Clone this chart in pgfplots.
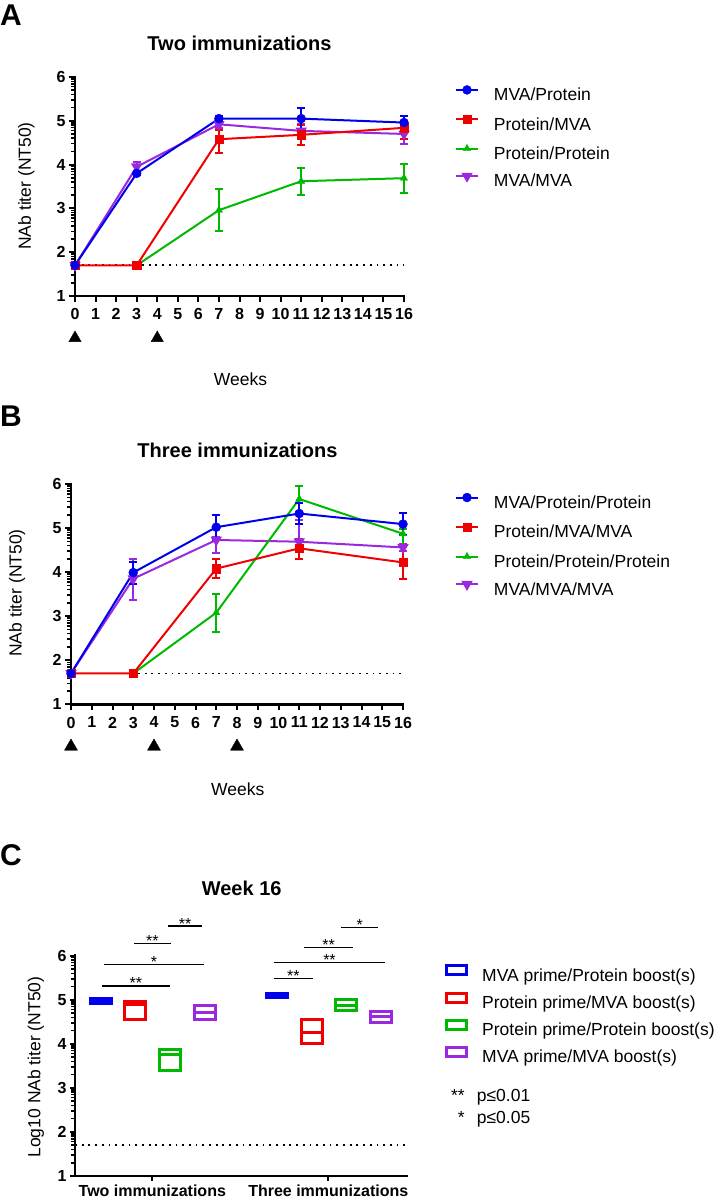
\documentclass[border=0pt]{standalone}
\usepackage{fontspec}
\setmainfont{Liberation Sans}
\usepackage{pgfplots}
\pgfplotsset{compat=1.18}
\usepackage{pgfplotstable}
\usepgfplotslibrary{statistics}

\definecolor{cblue}{RGB}{0,0,235}
\definecolor{cred}{RGB}{240,0,0}
\definecolor{cgreen}{RGB}{0,185,0}
\definecolor{cpurple}{RGB}{155,40,225}

% ---------- Panel A: two immunizations ----------
\pgfplotstableread{
x y ep em
0 1.70 0 0
3 3.80 0.04 0.04
7 5.05 0.05 0.05
11 5.05 0.24 0.24
16 4.96 0.15 0.15
}\ABlue
\pgfplotstableread{
x y ep em
0 1.70 0 0
3 1.70 0 0
7 4.58 0.22 0.32
11 4.68 0.22 0.24
16 4.84 0.15 0.25
}\ARed
\pgfplotstableread{
x y ep em
3 1.70 0 0
7 2.96 0.48 0.48
11 3.62 0.31 0.31
16 3.69 0.33 0.33
}\AGreen
\pgfplotstableread{
x y ep em
0 1.70 0 0
3 3.95 0.10 0.10
7 4.92 0.08 0.08
11 4.77 0.15 0.15
16 4.70 0.20 0.22
}\APurple
% ---------- Panel B: three immunizations ----------
\pgfplotstableread{
x y ep em
0 1.70 0 0
3 3.99 0.25 0.25
7 5.02 0.28 0.28
11 5.33 0.24 0.24
16 5.09 0.25 0.25
}\BBlue
\pgfplotstableread{
x y ep em
0 1.70 0 0
3 1.70 0 0
7 4.08 0.22 0.22
11 4.54 0.22 0.24
16 4.22 0.38 0.38
}\BRed
\pgfplotstableread{
x y ep em
3 1.70 0 0
7 3.08 0.43 0.43
11 5.66 0.29 0.29
16 4.87 0.12 0.25
}\BGreen
\pgfplotstableread{
x y ep em
0 1.70 0 0
3 3.85 0.44 0.48
7 4.73 0.07 0.29
11 4.69 0.50 0.15
16 4.56 0.08 0.08
}\BPurple

\pgfplotsset{
  common/.style={
    scale only axis, clip=false,
    axis x line*=bottom, axis y line*=left,
    axis line style={line width=2.5pt, line cap=rect},
    ymin=1, ymax=6, ytick={1,...,6},
    minor ytick={1.301,1.477,1.602,1.699,1.778,1.845,1.903,1.954,
                 2.301,2.477,2.602,2.699,2.778,2.845,2.903,2.954,
                 3.301,3.477,3.602,3.699,3.778,3.845,3.903,3.954,
                 4.301,4.477,4.602,4.699,4.778,4.845,4.903,4.954,
                 5.301,5.477,5.602,5.699,5.778,5.845,5.903,5.954},
    tick align=outside, major tick length=6pt, minor tick length=3.5pt,
    major tick style={line width=2pt, black},
    minor tick style={line width=1.5pt, black},
    tick label style={font=\bfseries\fontsize{16}{16}\selectfont},
    /pgf/number format/assume math mode=true,
    legend cell align=left,
    legend style={draw=none, fill=none, anchor=north west, inner sep=0pt, outer sep=0pt,
      column sep=15pt, nodes={inner sep=0pt, text height=12.6pt, text depth=3.7pt,
      font=\fontsize{17.5}{18}\selectfont}},
  },
  timecourse/.style={common,
    xmin=0, xmax=16, xtick={0,...,16},
    x tick label style={yshift=-3pt},
    reverse legend,
    legend style={row sep=10.7pt},
    legend image code/.code={\draw[mark repeat=2,mark phase=2] plot coordinates {(0pt,6.3pt)(11pt,6.3pt)(22pt,6.3pt)};},
  },
  ser/.style={line width=2pt, color=#1, mark options={solid, line width=0.4pt},
    error bars/y dir=both, error bars/y explicit,
    error bars/error mark=-,
    error bars/error bar style={line width=2pt, color=#1},
    error bars/error mark options={rotate=90, line width=2pt, mark size=4pt, color=#1}},
  arrowmk/.style={only marks, mark=triangle*, black, forget plot, mark options={solid}},
  dotline/.style={black, line width=1.8pt, dash pattern=on 1.8pt off 4.9pt, forget plot},
  boxleg/.style={legend image code/.code={\draw (1.5pt,1.8pt) rectangle (21pt,10.8pt);}},
  fb/.style={line width=3pt, solid, boxplot/draw direction=y, boxplot/box extend=0.119,
    boxplot/whisker extend=0},
}

\newcommand{\fbig}{\fontsize{20}{22}\selectfont\bfseries}
\newcommand{\flab}{\fontsize{17.5}{18}\selectfont}
\newcommand{\fletter}{\fontsize{30}{30}\selectfont\bfseries}
\newcommand{\fstar}{\fontsize{16}{16}\selectfont}

\begin{document}
\begin{tikzpicture}[x=1pt,y=1pt]
\path[use as bounding box] (0,0) rectangle (723,-1200);

% ================= A =================
\node[anchor=base west, inner sep=0pt, font=\fletter] at (0,-25) {A};
\node[inner sep=0pt, font=\fbig] at (239.5,-43) {Two immunizations};
\begin{axis}[timecourse, at={(75pt,-296pt)}, anchor=south west,
  width=329pt, height=219pt,
  legend style={at={(axis description cs:1.155,0.9616)}}]
\addplot[dotline] coordinates {(0,1.7) (16,1.7)};
\addplot[ser=cpurple, mark=triangle*, mark size=4.6pt, mark options={rotate=180}]
  table[x=x, y=y, y error plus=ep, y error minus=em] {\APurple};
\addlegendentry{MVA/MVA}
\addplot[ser=cgreen, mark=triangle*, mark size=4.2pt]
  table[x=x, y=y, y error plus=ep, y error minus=em] {\AGreen};
\addlegendentry{Protein/Protein}
\addplot[ser=cred, mark=square*, mark size=4.2pt]
  table[x=x, y=y, y error plus=ep, y error minus=em] {\ARed};
\addlegendentry{Protein/MVA}
\addplot[ser=cblue, mark=*, mark size=4.5pt]
  table[x=x, y=y, y error plus=ep, y error minus=em] {\ABlue};
\addlegendentry{MVA/Protein}
\addplot[arrowmk, mark size=7.1pt] coordinates {(0,0.039) (4,0.039)};
\end{axis}
\node[rotate=90, inner sep=0pt, font=\flab] at (26.3,-186) {NAb titer (NT50)};
\node[inner sep=0pt, font=\flab] at (240.5,-379.7) {Weeks};

% ================= B =================
\node[anchor=base west, inner sep=0pt, font=\fletter] at (0,-426) {B};
\node[inner sep=0pt, font=\fbig] at (237.5,-450) {Three immunizations};
\begin{axis}[timecourse, at={(71pt,-704.3pt)}, anchor=south west,
  width=332pt, height=220.3pt,
  legend style={at={(axis description cs:1.1566,0.959)}, row sep=10.9pt}]
\addplot[dotline] coordinates {(0,1.7) (16,1.7)};
\addplot[ser=cpurple, mark=triangle*, mark size=4.6pt, mark options={rotate=180}]
  table[x=x, y=y, y error plus=ep, y error minus=em] {\BPurple};
\addlegendentry{MVA/MVA/MVA}
\addplot[ser=cgreen, mark=triangle*, mark size=4.2pt]
  table[x=x, y=y, y error plus=ep, y error minus=em] {\BGreen};
\addlegendentry{Protein/Protein/Protein}
\addplot[ser=cred, mark=square*, mark size=4.2pt]
  table[x=x, y=y, y error plus=ep, y error minus=em] {\BRed};
\addlegendentry{Protein/MVA/MVA}
\addplot[ser=cblue, mark=*, mark size=4.5pt]
  table[x=x, y=y, y error plus=ep, y error minus=em] {\BBlue};
\addlegendentry{MVA/Protein/Protein}
\addplot[arrowmk, mark size=7.5pt] coordinates {(0,0.0424) (4,0.0424) (8,0.0424)};
\end{axis}
\node[rotate=90, inner sep=0pt, font=\flab] at (17,-593) {NAb titer (NT50)};
\node[inner sep=0pt, font=\flab] at (237.8,-789) {Weeks};

% ================= C =================
\node[anchor=base west, inner sep=0pt, font=\fletter] at (0,-865) {C};
\node[inner sep=0pt, font=\fbig] at (241.7,-888.5) {Week 16};
\begin{axis}[common, at={(75pt,-1176pt)}, anchor=south west,
  width=331.7pt, height=220.3pt,
  xmin=0.5608, xmax=2.4455, xtick={1,2},
  xticklabels={Two immunizations,Three immunizations},
  x tick label style={yshift=0pt},
  major tick length=5pt,
  legend style={at={(axis description cs:1.1155,0.9605)}, row sep=6.7pt, column sep=14.7pt}]
\addplot[dotline] coordinates {(0.5608,1.7) (2.4455,1.7)};
% group 1: two immunizations
\addplot[draw=cblue, fb, boxplot prepared={draw position=0.706,
  lower whisker=4.91, lower quartile=4.91, median=4.98, upper quartile=5.04, upper whisker=5.04}, boxleg] coordinates {};
\addlegendentry{MVA prime/Protein boost(s)}
\addplot[draw=cred, fb, boxplot prepared={draw position=0.902,
  lower whisker=4.55, lower quartile=4.55, median=4.90, upper quartile=4.95, upper whisker=4.95}, boxleg] coordinates {};
\addlegendentry{Protein prime/MVA boost(s)}
\addplot[draw=cgreen, fb, boxplot prepared={draw position=1.100,
  lower whisker=3.40, lower quartile=3.40, median=3.76, upper quartile=3.88, upper whisker=3.88}, boxleg] coordinates {};
\addlegendentry{Protein prime/Protein boost(s)}
\addplot[draw=cpurple, fb, boxplot prepared={draw position=1.300,
  lower whisker=4.55, lower quartile=4.55, median=4.71, upper quartile=4.87, upper whisker=4.87}, boxleg] coordinates {};
\addlegendentry{MVA prime/MVA boost(s)}
% group 2: three immunizations
\addplot[forget plot, draw=cblue, fb, boxplot prepared={draw position=1.707,
  lower whisker=5.06, lower quartile=5.06, median=5.10, upper quartile=5.14, upper whisker=5.14}] coordinates {};
\addplot[forget plot, draw=cred, fb, boxplot prepared={draw position=1.906,
  lower whisker=4.00, lower quartile=4.00, median=4.25, upper quartile=4.55, upper whisker=4.55}] coordinates {};
\addplot[forget plot, draw=cgreen, fb, boxplot prepared={draw position=2.100,
  lower whisker=4.75, lower quartile=4.75, median=4.88, upper quartile=5.00, upper whisker=5.00}] coordinates {};
\addplot[forget plot, draw=cpurple, fb, boxplot prepared={draw position=2.300,
  lower whisker=4.48, lower quartile=4.48, median=4.62, upper quartile=4.74, upper whisker=4.74}] coordinates {};
% significance brackets
\begin{scope}[line width=1.1pt, black]
\draw (axis cs:0.7125,5.313) -- (axis cs:1.1006,5.313) node[midway, anchor=base, yshift=-3pt, inner sep=0pt, font=\fstar] {**};
\draw (axis cs:0.7256,5.805) -- (axis cs:1.2937,5.805) node[midway, anchor=base, yshift=-3pt, inner sep=0pt, font=\fstar] {*};
\draw (axis cs:0.896,6.272) -- (axis cs:1.106,6.272) node[midway, anchor=base, yshift=-3pt, inner sep=0pt, font=\fstar] {**};
\draw (axis cs:1.089,6.674) -- (axis cs:1.284,6.674) node[midway, anchor=base, yshift=-3pt, inner sep=0pt, font=\fstar] {**};
\draw (axis cs:1.6915,5.487) -- (axis cs:1.911,5.487) node[midway, anchor=base, yshift=-3pt, inner sep=0pt, font=\fstar] {**};
\draw (axis cs:1.6915,5.841) -- (axis cs:2.322,5.841) node[midway, anchor=base, yshift=-3pt, inner sep=0pt, font=\fstar] {**};
\draw (axis cs:1.864,6.182) -- (axis cs:2.139,6.182) node[midway, anchor=base, yshift=-3pt, inner sep=0pt, font=\fstar] {**};
\draw (axis cs:2.072,6.644) -- (axis cs:2.284,6.644) node[midway, anchor=base, yshift=-3pt, inner sep=0pt, font=\fstar] {*};
\end{scope}
\end{axis}
\node[rotate=90, inner sep=0pt, font=\flab] at (35.8,-1067) {Log10 NAb titer (NT50)};
\node[anchor=base east, inner sep=0pt, font=\flab] at (465,-1101.3) {**};
\node[anchor=base west, inner sep=0pt, font=\flab] at (476.7,-1101.3) {p≤0.01};
\node[anchor=base east, inner sep=0pt, font=\flab] at (465,-1123.3) {*};
\node[anchor=base west, inner sep=0pt, font=\flab] at (476.7,-1123.3) {p≤0.05};
\end{tikzpicture}
\end{document}
